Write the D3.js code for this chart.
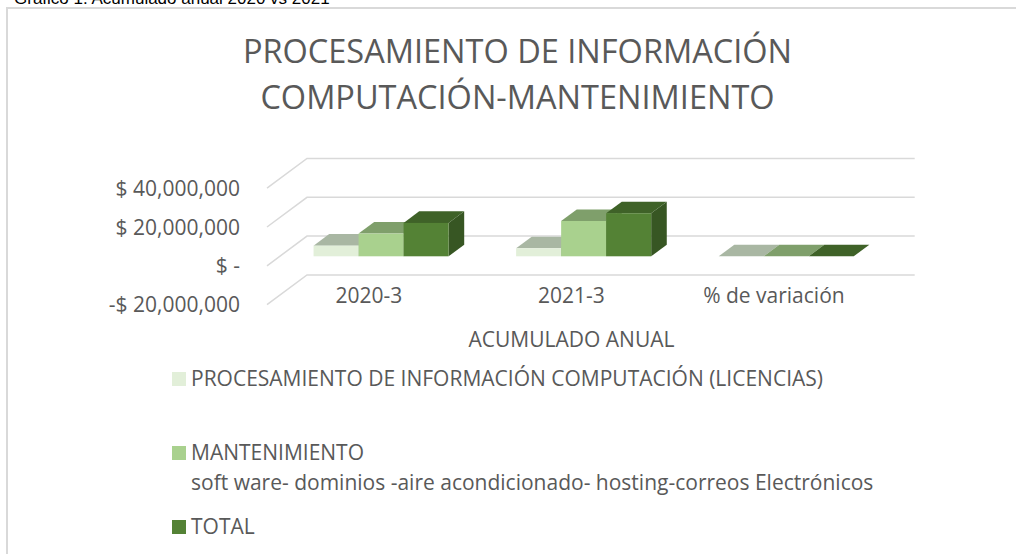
<!DOCTYPE html>
<html><head><meta charset="utf-8">
<script src="https://cdn.jsdelivr.net/npm/d3@7"></script>
<style>html,body{margin:0;padding:0;background:#fff}svg{display:block}text{font-family:"Open Sans",sans-serif;fill:#595959}</style>
</head><body><div id="c"></div>
<script>
const categories = ["2020-3","2021-3","% de variación"];
const seriesLicencias = [5500000,4100000,0];
const seriesMantenimiento = [11700000,18200000,0];
const seriesTotal = [17200000,22200000,0];
const yTicks = [40000000,20000000,0,-20000000];
const yTickLabels = ["$ 40,000,000","$ 20,000,000","$ -","-$ 20,000,000"];
const titleLines = ["PROCESAMIENTO DE INFORMACIÓN","COMPUTACIÓN-MANTENIMIENTO"];
const axisTitle = "ACUMULADO ANUAL";
const caption = "Gráfico 1. Acumulado anual 2020 vs 2021";

const W=1016,H=554;
const svg=d3.select("#c").append("svg").attr("width",W).attr("height",H);
svg.append("path").attr("d","M7,554V8H1016").attr("fill","none").attr("stroke","#d9d9d9").attr("stroke-width",2);
svg.append("text").attr("x",14).attr("y",4).attr("font-size",17).style("font-family","'Liberation Sans'").style("fill","#000").text(caption);
svg.append("g").selectAll("text").data(titleLines).join("text")
  .attr("x",517.5).attr("y",(d,i)=>63+i*45.5).attr("text-anchor","middle").attr("font-size",32.5).text(d=>d);

const depthX=40,depthY=-29.7;
const x=d3.scaleBand().domain(categories).range([267,874.7]);
const y=d3.scaleLinear().domain([-20000000,40000000]).range([304.6,188.2]);
const seriesNames=["a","b","c"];
const xs=d3.scaleBand().domain(seriesNames).range([x.bandwidth()/6,x.bandwidth()*5/6]);
const gridG=svg.append("g");
yTicks.forEach(t=>{
  const y0=y(t);
  gridG.append("path").attr("fill","none").attr("stroke","#d9d9d9").attr("stroke-width",1.5)
    .attr("d",d3.line()([[267,y0],[267+depthX,y0+depthY],[874.7+depthX,y0+depthY]]));
});
svg.append("g").selectAll("text").data(yTicks).join("text")
  .attr("x",240).attr("y",d=>y(d)+7.5).attr("text-anchor","end").attr("font-size",21)
  .text((d,i)=>yTickLabels[i]);
svg.append("g").selectAll("text").data(categories).join("text")
  .attr("x",d=>x(d)+x.bandwidth()/2).attr("dx",0.5).attr("y",303).attr("text-anchor","middle").attr("font-size",21).text(d=>d);
svg.append("text").attr("x",571.5).attr("y",347).attr("text-anchor","middle").attr("font-size",21).text(axisTitle);

const f0=0.32,f1=0.71;
const series=[
 {k:"a",v:seriesLicencias,front:"#E2EFD9",top:"#A9B7A3",side:"#9EAB98"},
 {k:"b",v:seriesMantenimiento,front:"#A9D18E",top:"#7F9F6B",side:"#76955F"},
 {k:"c",v:seriesTotal,front:"#548235",top:"#3F6228",side:"#375623"}];
const gb=svg.append("g");
categories.forEach((c,i)=>{
  series.forEach(s=>{
    const val=s.v[i];
    const xl=x(c)+xs(s.k)+f0*depthX, xr=xl+xs.bandwidth();
    const yb=y(0)+f0*depthY, yt=y(val)+f0*depthY;
    const dx=(f1-f0)*depthX, dy=(f1-f0)*depthY;
    gb.append("path").attr("fill",s.side).attr("d",`M${xr},${yt}L${xr+dx},${yt+dy}L${xr+dx},${yb+dy}L${xr},${yb}Z`);
    gb.append("path").attr("fill",s.top).attr("d",`M${xl},${yt}L${xl+dx},${yt+dy}L${xr+dx},${yt+dy}L${xr},${yt}Z`);
    gb.append("rect").attr("x",xl).attr("y",yt).attr("width",xr-xl).attr("height",yb-yt).attr("fill",s.front);
  });
});
const legend=[
 {c:"#E2EFD9",t:["PROCESAMIENTO DE INFORMACIÓN COMPUTACIÓN (LICENCIAS)"],y:379},
 {c:"#A9D18E",t:["MANTENIMIENTO","soft ware- dominios -aire acondicionado- hosting-correos Electrónicos"],y:453},
 {c:"#548235",t:["TOTAL"],y:527}];
legend.forEach(l=>{
  svg.append("rect").attr("x",172).attr("y",l.y-7).attr("width",14).attr("height",14).attr("fill",l.c);
  l.t.forEach((t,i)=>svg.append("text").attr("x",191).attr("y",l.y+7+i*30).attr("font-size",21).text(t));
});
</script></body></html>
